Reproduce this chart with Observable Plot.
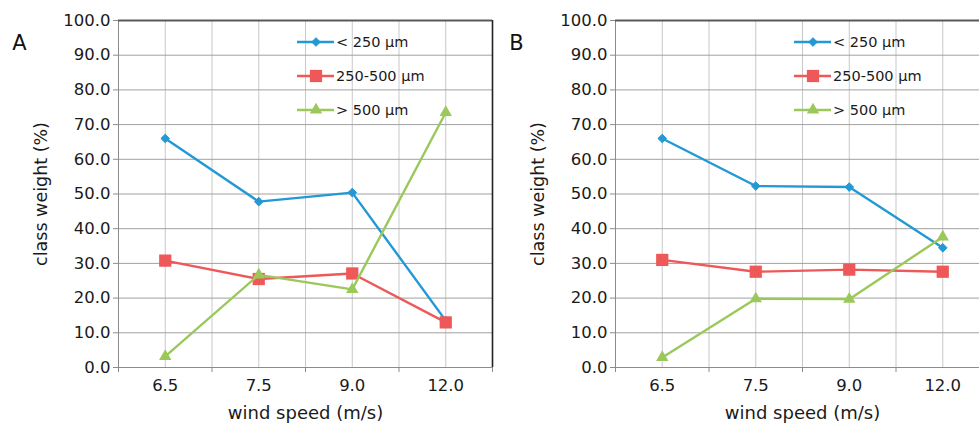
<!DOCTYPE html>
<html>
<head>
<meta charset="utf-8">
<script src="https://cdn.jsdelivr.net/npm/d3@7"></script>
<script src="https://cdn.jsdelivr.net/npm/@observablehq/plot@0.6"></script>
<style>
  html, body { margin: 0; padding: 0; background: #fff; }
  #wrap { position: relative; width: 979px; height: 425px; overflow: hidden; background: #fff; }
  #wrap svg { position: absolute; top: 0; overflow: visible; }
</style>
</head>
<body>
<div id="wrap"></div>
<script>
// ---- data ----
const categories = ["6.5", "7.5", "9.0", "12.0"];
const seriesNames = ["< 250 µm", "250-500 µm", "> 500 µm"];
const seriesColors = ["#2299D5", "#EE5858", "#9BC85A"];
const panelLetters = ["A", "B"];
const yTicks = [0, 10, 20, 30, 40, 50, 60, 70, 80, 90, 100];

const panelA_lt250 = [66.0, 47.8, 50.4, 13.5];
const panelA_250to500 = [30.8, 25.5, 27.1, 13.0];
const panelA_gt500 = [3.2, 26.7, 22.5, 73.5];

const panelB_lt250 = [66.0, 52.3, 52.0, 34.5];
const panelB_250to500 = [31.0, 27.6, 28.2, 27.6];
const panelB_gt500 = [2.9, 19.8, 19.7, 37.6];

const xTitle = "wind speed (m/s)";
const yTitle = "class weight (%)";

// ---- drawing ----
const FONT = "DejaVu Sans";
const symbols = ["diamond2", "square", "triangle"];
const radii = [3.9, 6.9, 4.6];
const centers = categories.map((c, i) => i);
const boundaries = d3.range(categories.length + 1).map(i => i - 0.5);

function panel(letter, seriesValues, left) {
  const series = seriesValues.map((vals, k) => ({
    name: seriesNames[k], color: seriesColors[k],
    rows: vals.map((v, i) => ({i, v}))
  }));
  const marks = [
    Plot.gridX(boundaries.concat(centers), {stroke: "#c8c8c8", strokeOpacity: 1}),
    Plot.gridY(yTicks, {stroke: "#a0a0a0", strokeOpacity: 1}),
    Plot.ruleX([-0.5], {stroke: "#8c8c8c"}),
    Plot.ruleY([0], {stroke: "#8c8c8c"}),
    Plot.ruleY([100], {stroke: "#5a5a5a", strokeWidth: 2}),
    Plot.ruleX([categories.length - 0.5], {stroke: "#222", strokeWidth: 1.6}),
    Plot.axisY(yTicks, {tickSize: 5, tickPadding: 3, tickFormat: d => d.toFixed(1), fontSize: 16.5, stroke: "#8c8c8c", fill: "#1a1a1a", label: null}),
    Plot.axisX(centers, {tickSize: 0, tickPadding: 12, tickFormat: i => categories[i], fontSize: 16.5, fill: "#1a1a1a", label: null}),
    Plot.axisX(boundaries, {tickSize: 5, tickFormat: () => "", stroke: "#8c8c8c", label: null}),
    Plot.text([xTitle], {frameAnchor: "bottom", dy: 46, fontSize: 18, fill: "#1a1a1a", textAnchor: "middle", lineAnchor: "middle"}),
    Plot.text([yTitle], {frameAnchor: "left", rotate: -90, dx: -77, fontSize: 17.5, fill: "#1a1a1a", textAnchor: "middle", lineAnchor: "middle"}),
    Plot.text([letter], {frameAnchor: "top-left", dx: -99, dy: 23, fontSize: 21, fill: "#111", textAnchor: "middle", lineAnchor: "middle"})
  ];
  series.forEach((s, k) => {
    marks.push(Plot.line(s.rows, {x: "i", y: "v", stroke: s.color, strokeWidth: 2.4}));
    marks.push(Plot.dot(s.rows, {x: "i", y: "v", symbol: symbols[k], r: radii[k], fill: s.color, stroke: k === 0 ? s.color : "none", strokeWidth: 1}));
  });
  const svg = Plot.plot({
    width: 497, height: 425,
    marginLeft: 118, marginRight: 5, marginTop: 20, marginBottom: 58,
    x: {type: "linear", domain: [-0.5, categories.length - 0.5], label: null},
    y: {domain: [0, 100], label: null},
    style: {fontFamily: FONT, background: "transparent", color: "#222"},
    marks
  });
  svg.style.left = left + "px";

  // legend
  const g = d3.select(svg).append("g").attr("font-family", FONT).attr("font-size", 14.5)
    .attr("fill", "#1a1a1a").attr("text-anchor", "start");
  const rowsY = [42, 76, 110];
  const typeMap = {diamond2: d3.symbolDiamond2, square: d3.symbolSquare, triangle: d3.symbolTriangle};
  series.forEach((s, k) => {
    const y = rowsY[k];
    g.append("line").attr("x1", 297).attr("x2", 334).attr("y1", y).attr("y2", y)
      .attr("stroke", s.color).attr("stroke-width", 2.4);
    g.append("path").attr("transform", `translate(316,${y})`)
      .attr("d", d3.symbol(typeMap[symbols[k]], radii[k] * radii[k] * Math.PI)())
      .attr("fill", s.color).attr("stroke", k === 0 ? s.color : "none");
    g.append("text").attr("x", 336).attr("y", y).attr("dy", "0.35em").attr("text-anchor", "start").text(s.name);
  });
  return svg;
}

const wrap = document.getElementById("wrap");
wrap.appendChild(panel(panelLetters[0], [panelA_lt250, panelA_250to500, panelA_gt500], 0));
wrap.appendChild(panel(panelLetters[1], [panelB_lt250, panelB_250to500, panelB_gt500], 497));
</script>
</body>
</html>
